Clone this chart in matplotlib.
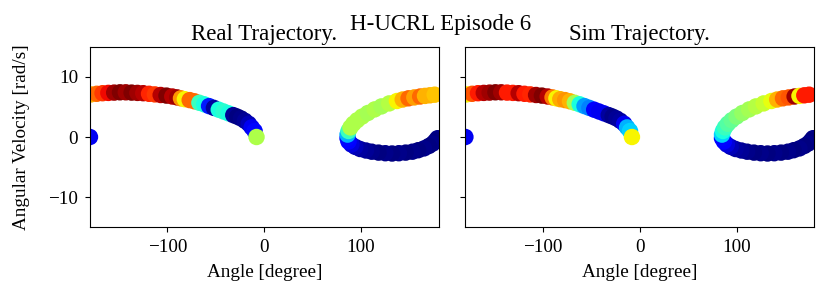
import matplotlib
matplotlib.use("Agg")
import matplotlib.pyplot as plt

plt.rcParams['font.family'] = ['Liberation Serif', 'DejaVu Serif']
plt.rcParams['font.size'] = 13.75

# real trajectory: angle [deg], angular velocity [rad/s], colour value (jet)
real_angle = [-180, 179, 177, 174, 170, 165, 159, 153, 146, 139, 132, 125, 118, 111, 105, 99, 94, 90, 87, 86,
              86, 87, 89, 92, 96, 101, 107, 114, 121, 129, 137, 143, 149, 155, 161, 166, 171, 176,
              -179, -173, -167, -161, -155, -149, -143, -137, -131, -125, -119, -113, -107, -101, -95, -90,
              -86, -82, -77, -72, -67, -62, -57, -52, -47, -42, -37, -32, -28, -24, -20, -16, -13, -10, -8]
real_vel = [0.0, -0.2, -0.6, -1.1, -1.5, -1.9, -2.2, -2.45, -2.6, -2.7, -2.75, -2.7, -2.6, -2.45, -2.25, -2.0, -1.65, -1.25, -0.75, -0.2,
            0.4, 1.0, 1.6, 2.2, 2.8, 3.4, 4.0, 4.6, 5.1, 5.6, 6.0, 6.25, 6.45, 6.6, 6.75, 6.85, 6.95, 7.05,
            7.1, 7.2, 7.3, 7.35, 7.4, 7.45, 7.45, 7.4, 7.35, 7.3, 7.2, 7.1, 7.0, 6.9, 6.75, 6.6,
            6.45, 6.3, 6.15, 5.95, 5.7, 5.45, 5.15, 4.85, 4.55, 4.25, 3.95, 3.65, 3.4, 3.1, 2.7, 2.2, 1.6, 1.0, 0.0]
real_c = [0.1, 0.01, 0.0, 0.01, 0.0, 0.01, 0.0, 0.01, 0.0, 0.01, 0.0, 0.01, 0.0, 0.01, 0.02, 0.03, 0.05, 0.08, 0.11, 0.13,
          0.3, 0.42, 0.56, 0.56, 0.56, 0.56, 0.55, 0.56, 0.55, 0.57, 0.65, 0.72, 0.8, 0.74, 0.8, 0.72, 0.72, 0.7,
          0.72, 0.8, 0.85, 0.9, 0.97, 1.0, 0.97, 1.0, 0.97, 0.95, 0.87, 0.85, 0.95, 1.0, 0.95, 0.97,
          0.75, 0.65, 0.8, 0.8, 0.42, 0.38, 0.15, 0.03, 0.38, 0.4, 0.38, 0.02, 0.0, 0.01, 0.02, 0.05, 0.1, 0.13, 0.56]

# simulated trajectory
sim_angle = [-180, 179, 177, 174, 170, 165, 159, 153, 146, 139, 132, 125, 118, 111, 105, 99, 94, 90, 87, 85,
             85, 86, 88, 91, 95, 100, 106, 113, 120, 128, 136, 142, 148, 154, 160, 165, 170, 175,
             -179, -173, -167, -161, -155, -149, -143, -137, -131, -125, -119, -113, -107, -101, -95, -90,
             -86, -82, -77, -72, -67, -62, -57, -52, -47, -42, -37, -32, -28, -24, -20, -16, -13, -10, -8]
sim_vel = [0.0, -0.2, -0.6, -1.1, -1.5, -1.9, -2.2, -2.45, -2.6, -2.7, -2.75, -2.7, -2.6, -2.45, -2.25, -2.0, -1.65, -1.25, -0.75, -0.2,
           0.4, 1.0, 1.6, 2.2, 2.8, 3.4, 4.0, 4.6, 5.1, 5.6, 6.0, 6.25, 6.45, 6.6, 6.75, 6.85, 6.95, 7.05,
           7.1, 7.2, 7.3, 7.35, 7.4, 7.45, 7.45, 7.4, 7.35, 7.3, 7.2, 7.1, 7.0, 6.9, 6.75, 6.6,
           6.45, 6.3, 6.15, 5.95, 5.7, 5.45, 5.15, 4.85, 4.55, 4.25, 3.95, 3.65, 3.4, 3.1, 2.7, 2.2, 1.6, 1.0, 0.0]
sim_c = [0.1, 0.01, 0.0, 0.01, 0.0, 0.01, 0.0, 0.01, 0.0, 0.01, 0.0, 0.01, 0.0, 0.01, 0.02, 0.03, 0.05, 0.08, 0.11, 0.13,
         0.33, 0.38, 0.42, 0.45, 0.47, 0.5, 0.53, 0.55, 0.57, 0.59, 0.63, 0.72, 0.8, 0.82, 0.97, 0.65, 0.88, 0.88,
         0.65, 0.82, 0.88, 0.95, 0.97, 1.0, 0.97, 0.88, 0.88, 0.95, 0.88, 0.87, 0.97, 1.0, 0.95, 0.78,
         0.65, 0.73, 0.75, 0.72, 0.55, 0.38, 0.28, 0.25, 0.12, 0.1, 0.1, 0.03, 0.01, 0.02, 0.03, 0.1, 0.3, 0.33, 0.65]

fig, axes = plt.subplots(1, 2, figsize=(8.3, 3.02), dpi=100, sharey=True)
fig.subplots_adjust(left=0.1084, right=0.9807, top=0.8444, bottom=0.2483, wspace=0.077)

panels = [(real_angle, real_vel, real_c, 'Real Trajectory.'),
          (sim_angle, sim_vel, sim_c, 'Sim Trajectory.')]
for ax, (ang, vel, col, title) in zip(axes, panels):
    ax.scatter(ang, vel, c=col, cmap='jet', vmin=0, vmax=1, s=140, linewidths=0)
    ax.set_xlim(-180, 180)
    ax.set_ylim(-15, 15)
    ax.set_xticks([-100, 0, 100])
    ax.set_yticks([-10, 0, 10])
    ax.tick_params(pad=5)
    ax.set_xlabel('Angle [degree]', labelpad=6)
    ax.set_title(title, pad=5)

axes[0].set_ylabel('Angular Velocity [rad/s]', labelpad=13)
fig.suptitle('H-UCRL Episode 6', x=0.531, y=0.952)

fig.savefig('out.png', dpi=100)
